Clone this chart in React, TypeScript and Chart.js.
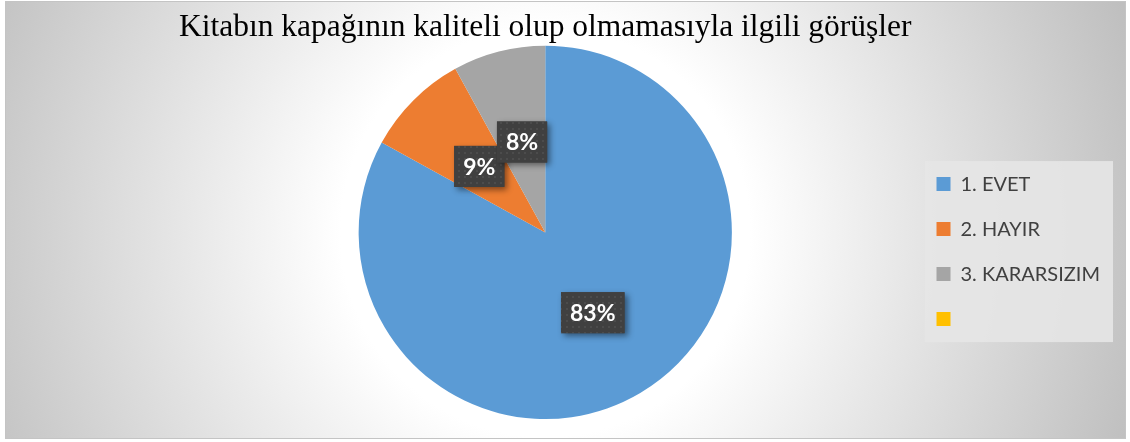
import { useEffect, useRef } from 'react';
import { Chart, registerables } from 'chart.js';

Chart.register(...registerables);

const TITLE = 'Kitabın kapağının kaliteli olup olmamasıyla ilgili görüşler';
const categories = ['1. EVET', '2. HAYIR', '3. KARARSIZIM', ''];
const values = [83, 9, 8, 0];
const colors = ['#5B9BD5', '#ED7D31', '#A5A5A5', '#FFC000'];

const backgroundPlugin = {
  id: 'bgAndLegendBox',
  beforeDraw(chart: any) {
    const { ctx, chartArea } = chart;
    ctx.save();
    ctx.fillStyle = '#ffffff';
    ctx.fillRect(0, 0, chart.width, chart.height);
    const cx = (chartArea.left + chartArea.right) / 2;
    const cy = (chartArea.top + chartArea.bottom) / 2;
    const g = ctx.createRadialGradient(cx, cy, 0, cx, cy, 620);
    g.addColorStop(0, '#ffffff');
    g.addColorStop(0.33, '#ffffff');
    g.addColorStop(1, '#bfbfbf');
    ctx.fillStyle = g;
    ctx.fillRect(5, 1, chart.width - 9, chart.height - 4);
    ctx.strokeStyle = '#c4c4c4';
    ctx.lineWidth = 1;
    ctx.strokeRect(5.5, 1.5, chart.width - 10, chart.height - 5);

    const lg = chart.legend;
    if (lg && lg.legendHitBoxes && lg.legendHitBoxes.length) {
      const hb = lg.legendHitBoxes;
      const l = Math.min(...hb.map((h: any) => h.left));
      const t = Math.min(...hb.map((h: any) => h.top));
      const r = Math.max(...hb.map((h: any) => h.left + h.width));
      const b = Math.max(...hb.map((h: any) => h.top + h.height));
      ctx.fillStyle = 'rgba(229,229,229,0.9)';
      ctx.fillRect(l - 12, t - 13, r - l + 25, b - t + 26);
    }
    ctx.restore();
  },
};

let dotPattern: CanvasPattern | null = null;
function getPattern(ctx: CanvasRenderingContext2D) {
  if (!dotPattern) {
    const c = document.createElement('canvas');
    c.width = 6;
    c.height = 6;
    const p = c.getContext('2d')!;
    p.fillStyle = '#404040';
    p.fillRect(0, 0, 6, 6);
    p.fillStyle = '#4c4c4c';
    p.fillRect(2, 2, 2, 2);
    dotPattern = ctx.createPattern(c, 'repeat');
  }
  return dotPattern;
}

const dataLabelPlugin = {
  id: 'pieDataLabels',
  afterDatasetsDraw(chart: any) {
    const { ctx } = chart;
    const meta = chart.getDatasetMeta(0);
    const data = chart.data.datasets[0].data as number[];
    const total = data.reduce((a, b) => a + b, 0);
    meta.data.forEach((arc: any, i: number) => {
      const v = data[i];
      if (!v) return;
      const { x, y } = arc.tooltipPosition(false);
      const text = Math.round((v / total) * 100) + '%';
      ctx.save();
      ctx.font = 'bold 23px Lato';
      const tw = ctx.measureText(text).width;
      const w = tw + 18;
      const h = 41;
      ctx.shadowColor = 'rgba(0,0,0,0.45)';
      ctx.shadowBlur = 6;
      ctx.shadowOffsetX = 3;
      ctx.shadowOffsetY = 3;
      ctx.fillStyle = '#404040';
      ctx.fillRect(x - w / 2, y - h / 2, w, h);
      ctx.shadowColor = 'transparent';
      ctx.fillStyle = getPattern(ctx) || '#404040';
      ctx.fillRect(x - w / 2, y - h / 2, w, h);
      ctx.fillStyle = '#ffffff';
      ctx.textAlign = 'center';
      ctx.textBaseline = 'middle';
      ctx.fillText(text, x, y + 1);
      ctx.restore();
    });
  },
};

export default function App() {
  const ref = useRef<HTMLCanvasElement | null>(null);
  useEffect(() => {
    if (!ref.current) return;
    const chart = new Chart(ref.current, {
      type: 'pie',
      data: {
        labels: categories,
        datasets: [
          {
            data: values,
            backgroundColor: colors,
            borderWidth: 0,
          },
        ],
      },
      options: {
        responsive: false,
        animation: false,
        events: [],
        layout: { padding: { left: 179, right: 20, top: 4, bottom: 23 } },
        plugins: {
          tooltip: { enabled: false },
          title: {
            display: true,
            text: TITLE,
            fullSize: false,
            color: '#000000',
            font: { family: '"Liberation Serif", "Times New Roman", serif', size: 32.5, weight: 'normal', lineHeight: 1.1 },
            padding: { top: 6, bottom: 0 },
          },
          legend: {
            position: 'right',
            fullSize: false,
            title: { display: true, text: ' ', font: { size: 12 }, padding: { top: 12, bottom: 12 } },
            labels: {
              boxWidth: 14,
              boxHeight: 14,
              padding: 25,
              color: '#404040',
              font: { family: 'Lato', size: 20 },
            },
          },
        },
      } as any,
      plugins: [backgroundPlugin, dataLabelPlugin],
    });
    return () => chart.destroy();
  }, []);
  return (
    <div style={{ position: 'absolute', left: 0, top: 0, width: 1130, height: 442 }}>
      <canvas ref={ref} width={1130} height={442} />
    </div>
  );
}
